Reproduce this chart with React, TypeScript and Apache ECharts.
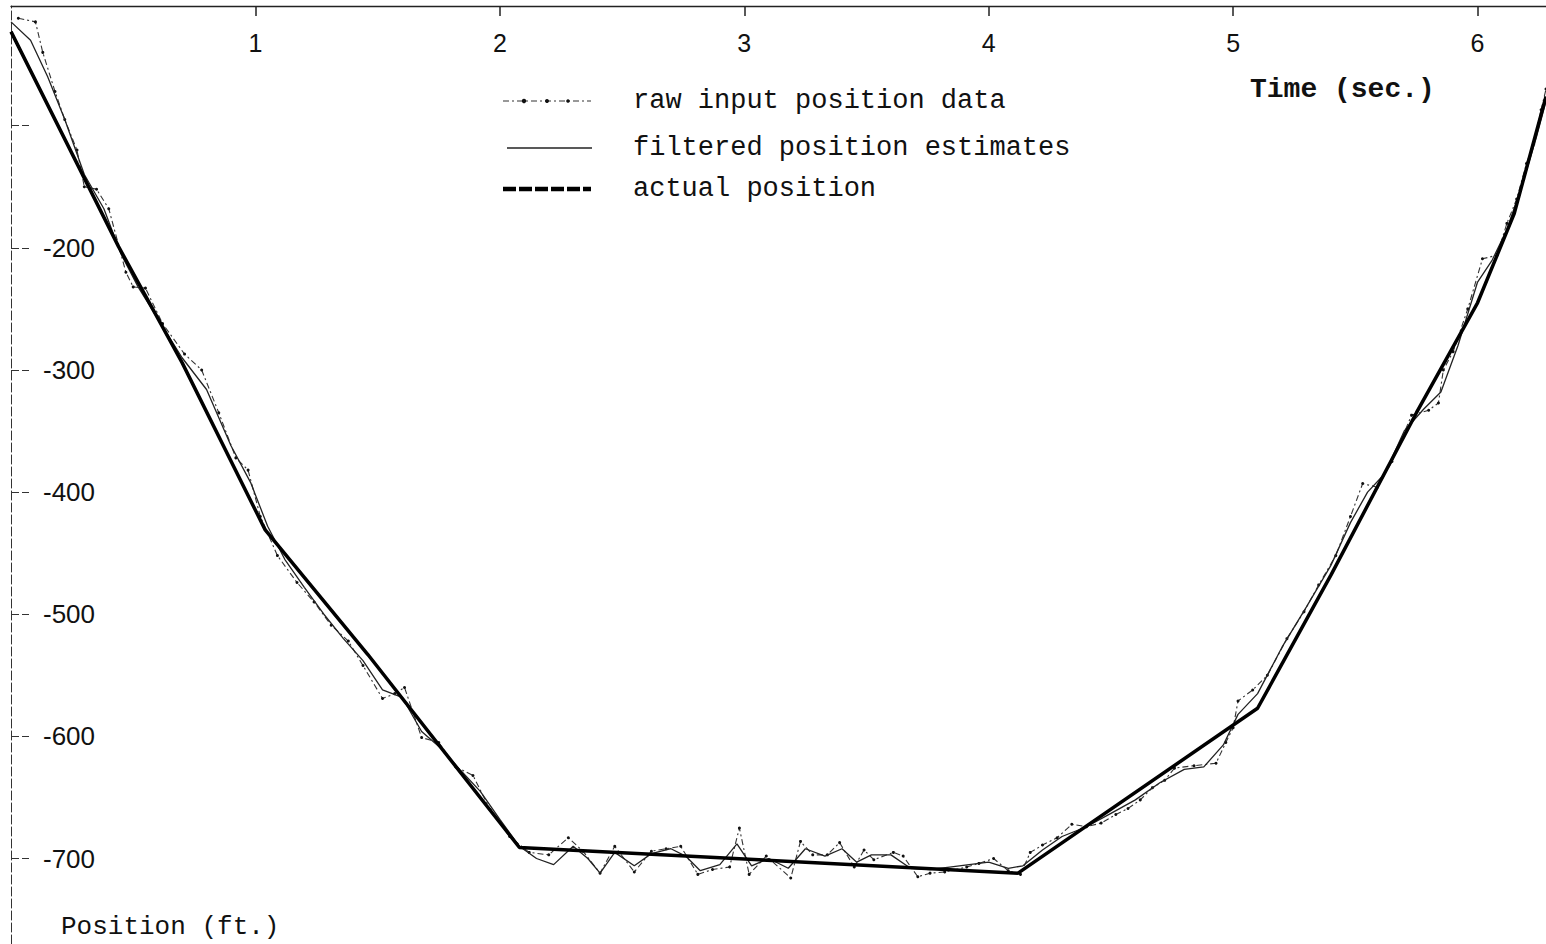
import React, { useEffect, useRef } from "react";
import * as echarts from "echarts";

// ---- data (time in seconds, position in feet) ----
const xTickValues = [1, 2, 3, 4, 5, 6];
const yTickValues = [-100, -200, -300, -400, -500, -600, -700];
const yLabelValues = [-200, -300, -400, -500, -600, -700];

const actualTime = [0, 0.44, 0.7, 1.04, 1.46, 2.08, 4.12, 5.1, 5.4, 5.75, 6.0, 6.15, 6.28];
const actualPos = [-23, -199, -294, -431, -533, -691, -712, -577, -468, -335, -245, -172, -76];

const filteredTime = [
  0, 0.08, 0.15, 0.22, 0.3, 0.38, 0.45, 0.52, 0.6, 0.7, 0.8, 0.9, 0.98, 1.05, 1.12, 1.2, 1.28, 1.36,
  1.44, 1.52, 1.6, 1.68, 1.76, 1.84, 1.92, 2.0, 2.08, 2.15, 2.22, 2.3, 2.36, 2.41, 2.47, 2.55, 2.62,
  2.7, 2.76, 2.82, 2.9, 2.97, 3.03, 3.1, 3.18, 3.25, 3.33, 3.4, 3.46, 3.52, 3.6, 3.68, 3.76, 3.84,
  3.92, 4.0, 4.08, 4.14, 4.22, 4.3, 4.4, 4.5, 4.6, 4.7, 4.8, 4.88, 4.96, 5.02, 5.1, 5.2, 5.3, 5.4,
  5.48, 5.55, 5.62, 5.7, 5.78, 5.85, 5.92, 6.0, 6.06, 6.12, 6.18, 6.24, 6.28,
];
const filteredPos = [
  -15, -30, -60, -95, -140, -168, -205, -232, -258, -290, -316, -362, -392, -428, -455, -478, -500,
  -520, -538, -562, -568, -596, -610, -628, -645, -668, -690, -700, -705, -690, -700, -712, -695,
  -706, -696, -692, -698, -710, -705, -688, -706, -700, -708, -692, -698, -692, -703, -697, -697,
  -708, -709, -707, -705, -703, -708, -706, -693, -682, -674, -663, -652, -638, -627, -625, -607,
  -582, -565, -527, -494, -460, -425, -400, -385, -350, -332, -318, -280, -228, -210, -185, -150,
  -110, -80,
];

const rawTime = [
  0.03, 0.1, 0.13, 0.18, 0.22, 0.27, 0.3, 0.35, 0.4, 0.47, 0.5, 0.55, 0.62, 0.71, 0.78, 0.85, 0.92,
  0.97, 1.02, 1.09, 1.17, 1.24, 1.31, 1.38, 1.44, 1.52, 1.57, 1.61, 1.68, 1.75, 1.82, 1.89, 1.96,
  2.04, 2.12, 2.2, 2.28, 2.34, 2.41, 2.47, 2.55, 2.62, 2.68, 2.74, 2.81, 2.87, 2.94, 2.98, 3.02,
  3.09, 3.19, 3.23, 3.28, 3.34, 3.39, 3.45, 3.49, 3.53, 3.61, 3.65, 3.71, 3.76, 3.82, 3.91, 3.96,
  4.02, 4.08, 4.13, 4.17, 4.22, 4.28, 4.34, 4.4, 4.46, 4.52, 4.57, 4.62, 4.67, 4.72, 4.76, 4.84,
  4.93, 4.97, 5.0, 5.02, 5.08, 5.14, 5.22, 5.29, 5.35, 5.42, 5.48, 5.53, 5.59, 5.65, 5.73, 5.8,
  5.84, 5.86, 5.9, 5.96, 6.02, 6.08, 6.12, 6.16, 6.2, 6.23, 6.26, 6.28,
];
const rawPos = [
  -12, -15, -40, -72, -95, -120, -150, -152, -168, -220, -232, -233, -262, -287, -300, -335, -372,
  -382, -420, -452, -474, -490, -509, -522, -542, -569, -565, -560, -601, -605, -625, -632, -660,
  -682, -695, -697, -683, -694, -712, -690, -711, -694, -692, -690, -713, -709, -707, -675, -713,
  -698, -716, -686, -697, -697, -687, -707, -693, -701, -695, -698, -715, -712, -711, -707, -704,
  -700, -710, -713, -695, -689, -683, -672, -674, -671, -664, -659, -652, -642, -636, -626, -624,
  -622, -605, -593, -571, -562, -550, -520, -498, -476, -452, -420, -393, -396, -375, -337, -333,
  -327, -300, -285, -250, -209, -206, -180, -160, -131, -115, -87, -70,
];

const legendLabels = ["raw input position data", "filtered position estimates", "actual position"];
const xAxisName = "Time (sec.)";
const yAxisName = "Position (ft.)";

const zip = (t: number[], v: number[]) => t.map((x, i) => [x, v[i]]);

export default function App() {
  const ref = useRef<HTMLDivElement>(null);

  useEffect(() => {
    if (!ref.current) return;
    const chart = echarts.init(ref.current, undefined, { renderer: "svg" });
    const mono = "'Liberation Mono', 'DejaVu Sans Mono', monospace";
    const sans = "'Liberation Sans', Arial, sans-serif";
    const ink = "#111";

    const legendX1 = 503;
    const legendX2 = 591;
    const legendTextX = 633;
    const rows = [101, 148, 189];

    chart.setOption({
      animation: false,
      backgroundColor: "#ffffff",
      grid: { left: 11, right: 0, top: 6, bottom: 0, containLabel: false },
      xAxis: {
        type: "value",
        position: "top",
        min: 0,
        max: 6.28,
        axisLine: { show: true, lineStyle: { color: "#222", width: 1.3 } },
        axisTick: {
          show: true,
          inside: true,
          length: 10,
          customValues: xTickValues,
          lineStyle: { color: "#222", width: 1.5 },
        },
        axisLabel: {
          show: true,
          inside: true,
          margin: 24,
          customValues: xTickValues,
          fontFamily: sans,
          fontSize: 25,
          color: ink,
        },
        splitLine: { show: false },
      },
      yAxis: {
        type: "value",
        min: -770,
        max: -2,
        axisLine: { show: true, lineStyle: { color: "#333", width: 1, type: [9, 3] } },
        axisTick: {
          show: true,
          inside: true,
          length: 18,
          customValues: yTickValues,
          lineStyle: { color: "#333", width: 1.2, type: [8, 3] },
        },
        axisLabel: {
          show: true,
          inside: true,
          margin: 32,
          customValues: yLabelValues,
          fontFamily: sans,
          fontSize: 26,
          color: ink,
        },
        splitLine: { show: false },
      },
      series: [
        {
          name: legendLabels[0],
          type: "line",
          data: zip(rawTime, rawPos),
          symbol: "circle",
          symbolSize: 3,
          showSymbol: true,
          itemStyle: { color: "#111" },
          lineStyle: { color: "#333", width: 1.1, type: [6, 3, 2, 3] },
          z: 1,
        },
        {
          name: legendLabels[1],
          type: "line",
          data: zip(filteredTime, filteredPos),
          symbol: "none",
          lineStyle: { color: "#222", width: 1.3 },
          z: 2,
        },
        {
          name: legendLabels[2],
          type: "line",
          data: zip(actualTime, actualPos),
          symbol: "none",
          lineStyle: { color: "#000", width: 3.5 },
          z: 3,
        },
      ],
      graphic: [
        // legend symbols
        {
          type: "line",
          shape: { x1: legendX1, y1: rows[0], x2: legendX2, y2: rows[0] },
          style: { stroke: "#333", lineWidth: 1.2, lineDash: [6, 3, 2, 3] },
        },
        { type: "circle", shape: { cx: 524, cy: rows[0], r: 2.2 }, style: { fill: "#111" } },
        { type: "circle", shape: { cx: 547, cy: rows[0], r: 2 }, style: { fill: "#111" } },
        { type: "circle", shape: { cx: 568, cy: rows[0], r: 1.8 }, style: { fill: "#111" } },
        {
          type: "line",
          shape: { x1: 507, y1: rows[1], x2: 592, y2: rows[1] },
          style: { stroke: "#222", lineWidth: 1.3 },
        },
        {
          type: "line",
          shape: { x1: legendX1, y1: rows[2], x2: legendX2, y2: rows[2] },
          style: { stroke: "#000", lineWidth: 4.5, lineDash: [13, 3] },
        },
        // legend texts
        ...legendLabels.map((txt, i) => ({
          type: "text",
          x: legendTextX,
          y: rows[i],
          style: {
            text: txt,
            font: `27px ${mono}`,
            fill: ink,
            verticalAlign: "middle",
          },
        })),
        // axis names
        {
          type: "text",
          x: 1250,
          y: 89,
          style: {
            text: xAxisName,
            font: `bold 28px ${mono}`,
            fill: ink,
            verticalAlign: "middle",
          },
        },
        {
          type: "text",
          x: 61,
          y: 927,
          style: {
            text: yAxisName,
            font: `26px ${mono}`,
            fill: ink,
            verticalAlign: "middle",
          },
        },
      ],
    });

    return () => chart.dispose();
  }, []);

  return (
    <div
      ref={ref}
      style={{ position: "absolute", left: 0, top: 0, width: 1546, height: 944, background: "#fff" }}
    />
  );
}
